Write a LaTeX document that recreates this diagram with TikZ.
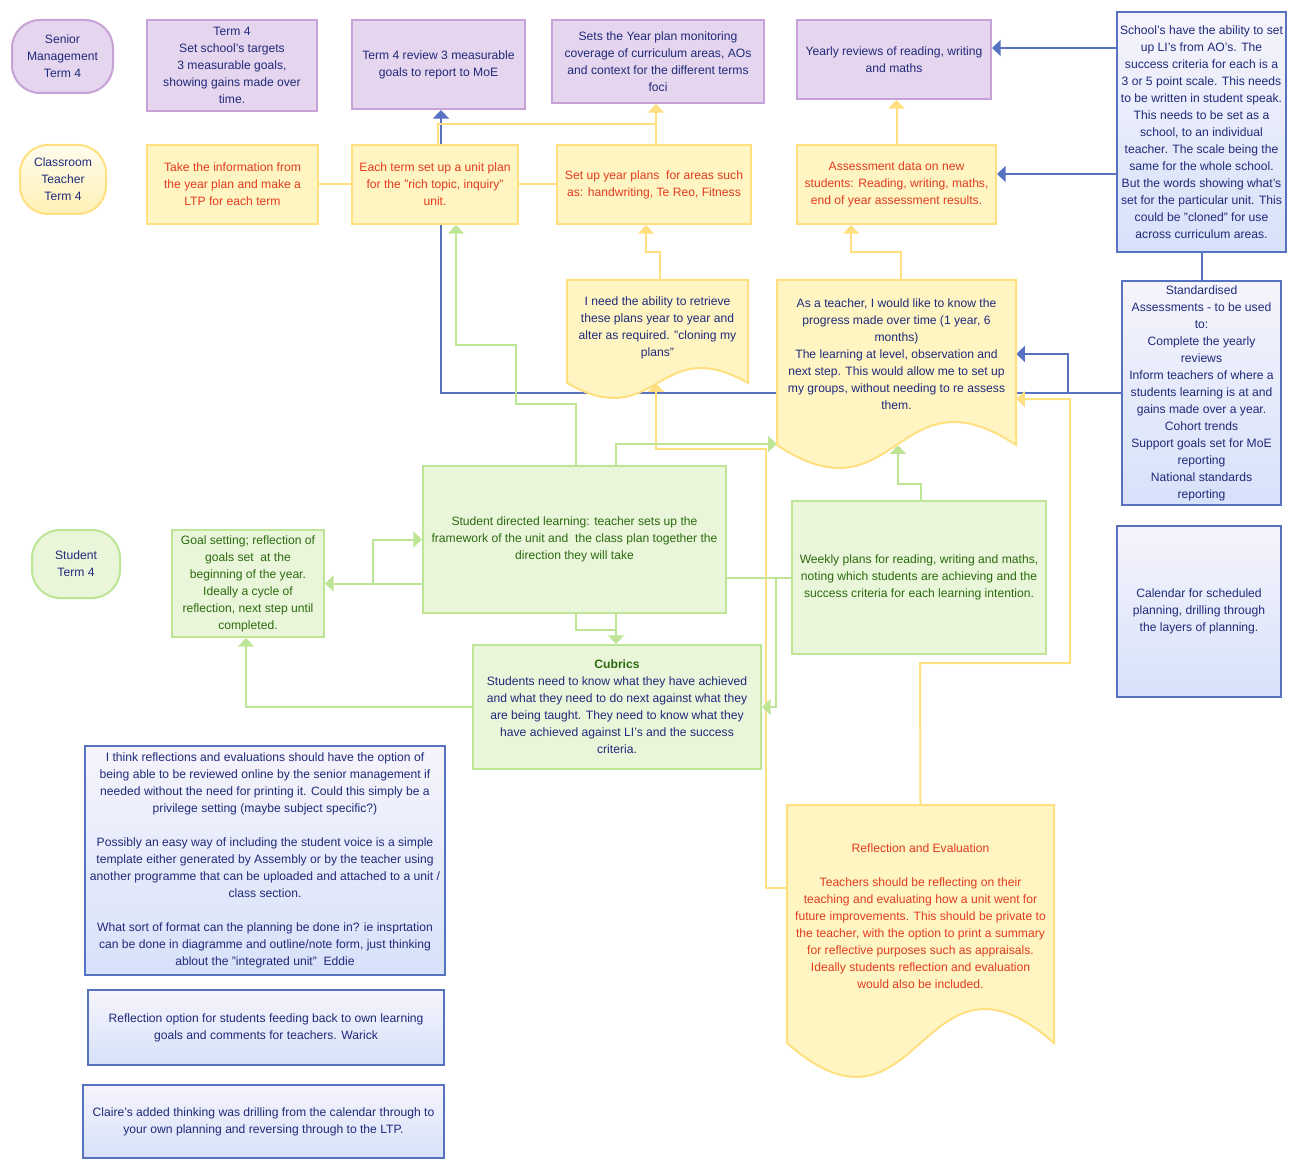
\documentclass[tikz,border=0pt]{standalone}
\usepackage{fontspec}
\setmainfont{Liberation Sans}
\usetikzlibrary{arrows.meta}
\definecolor{lilacfill}{HTML}{E6D5EE}
\definecolor{lilacline}{HTML}{C6A2D6}
\definecolor{sunfill}{HTML}{FFF5C2}
\definecolor{sunline}{HTML}{FFDF80}
\definecolor{leaffill}{HTML}{EAF6DA}
\definecolor{leafline}{HTML}{BEE596}
\definecolor{notetop}{HTML}{F6F4FB}
\definecolor{notebot}{HTML}{D6E1FA}
\definecolor{noteline}{HTML}{5672C0}
\definecolor{navytext}{HTML}{1F2A7A}
\definecolor{redtext}{HTML}{E23B1F}
\definecolor{leaftext}{HTML}{2B6A0E}
\newcommand\boxfont{\fontsize{9.1}{12.75}\selectfont}
% document shape: left, top, right, bottom edge, wave depth
\newcommand\docshape[5]{%
  \filldraw[draw=sunline, fill=sunfill, line width=1.5pt]
    (#1,#2) -- (#3,#2) -- (#3,#4)
    .. controls ({(#1+#3)/2},{#4-3.46*#5}) and ({(#1+#3)/2},{#4+3.46*#5}) .. (#1,#4)
    -- cycle;}
\pgfdeclarelayer{bg}
\pgfsetlayers{bg,main}

\begin{document}
\begin{tikzpicture}[x=0.75pt, y=-0.75pt,
  sz/.style 2 args={minimum width=#1*0.75pt, minimum height=#2*0.75pt},
  base/.style={draw, line width=1.5pt, align=center, font=\boxfont, inner sep=0.5pt},
  lilacbox/.style={base, draw=lilacline, fill=lilacfill, text=navytext},
  sunbox/.style={base, draw=sunline, fill=sunfill, text=redtext},
  leafbox/.style={base, draw=leafline, fill=leaffill, text=leaftext},
  notebox/.style={base, draw=noteline, top color=notetop, bottom color=notebot, text=navytext},
  lane/.style={rounded corners=21pt, text=navytext},
  docbox/.style={align=center, font=\boxfont, inner sep=0pt},
  tip/.style={-{Triangle[width=12pt, length=6.5pt]}},
  bline/.style={line width=1.5pt, draw=noteline},
  yline/.style={line width=1.5pt, draw=sunline},
  gline/.style={line width=1.5pt, draw=leafline}]
  \useasboundingbox (0,0) rectangle (1298,1169);

  % senior management lane
  \node[lilacbox, lane, sz={101}{73}] (senior) at (62.5,56.5) {Senior\\Management\\Term 4};
  \node[lilacbox, sz={170}{91}] (targets) at (232,65.5)
    {Term 4\\Set school's targets\\3 measurable goals,\\showing gains made over\\time.};
  \node[lilacbox, sz={173}{89}] (review) at (438.5,64.5)
    {Term 4 review 3 measurable\\goals to report to MoE};
  \node[lilacbox, sz={212}{83}] (yearplan) at (658,61.5)
    {Sets the Year plan monitoring\\coverage of curriculum areas, AOs\\and context for the different terms\\foci};
  \node[lilacbox, sz={194}{79}] (yearly) at (894,59.5)
    {Yearly reviews of reading, writing\\and maths};

  % classroom teacher lane
  \node[sunbox, lane, sz={86}{69}, top color=white!70!sunfill, bottom color=sunfill!80!sunline] (teacher) at (63,179.5)
    {Classroom\\Teacher\\Term 4};
  \node[sunbox, sz={171}{79}] (ltp) at (232.5,184.5)
    {Take the information from\\the year plan and make a\\LTP for each term};
  \node[sunbox, sz={166}{79}] (unit) at (435,184.5)
    {Each term set up a unit plan\\for the "rich topic, inquiry"\\unit.};
  \node[sunbox, sz={194}{79}] (setyear) at (654,184.5)
    {Set up year plans\ \ for areas such\\as: handwriting, Te Reo, Fitness};
  \node[sunbox, sz={199}{79}] (assess) at (896.5,184.5)
    {Assessment data on new\\students: Reading, writing, maths,\\end of year assessment results.};

  % documents
  \docshape{567}{280}{748}{383}{15}
  \node[docbox, sz={181}{103}, text=navytext, text depth=7pt] (retrieve) at (657.5,331.5)
    {I need the ability to retrieve\\these plans year to year and\\alter as required. "cloning my\\plans"};
  \docshape{777}{280}{1016}{445}{23}
  \node[docbox, sz={239}{165}, text=navytext, text depth=12.5pt] (progress) at (896.5,362.5)
    {As a teacher, I would like to know the\\progress made over time (1 year, 6\\months)\\The learning at level, observation and\\next step. This would allow me to set up\\my groups, without needing to re assess\\them.};
  \docshape{787}{805}{1054}{1043}{34}
  \node[docbox, sz={267}{238}, text=redtext, text depth=12.5pt] (refl) at (920.5,924)
    {Reflection and Evaluation\\[12.75pt]Teachers should be reflecting on their\\teaching and evaluating how a unit went for\\future improvements. This should be private to\\the teacher, with the option to print a summary\\for reflective purposes such as appraisals.\\Ideally students reflection and evaluation\\would also be included.};

  % student lane
  \node[leafbox, lane, sz={88}{68}] (student) at (76,564) {Student\\Term 4};
  \node[leafbox, sz={152}{107}] (goal) at (248,583.5)
    {Goal setting; reflection of\\goals set\ \ at the\\beginning of the year.\\Ideally a cycle of\\reflection, next step until\\completed.};
  \node[leafbox, sz={303}{147}] (sdl) at (574.5,539.5)
    {Student directed learning: teacher sets up the\\framework of the unit and\ \ the class plan together the\\direction they will take};
  \node[leafbox, sz={254}{153}] (weekly) at (919,577.5)
    {Weekly plans for reading, writing and maths,\\noting which students are achieving and the\\success criteria for each learning intention.};
  \node[leafbox, sz={288}{124}, text=navytext] (cubrics) at (617,707)
    {{\bfseries\color{leaftext}Cubrics}\\Students need to know what they have achieved\\and what they need to do next against what they\\are being taught. They need to know what they\\have achieved against LI's and the success\\criteria.};

  % notes
  \node[notebox, sz={169}{240}] (lis) at (1201.5,132)
    {School's have the ability to set\\up LI's from AO's. The\\success criteria for each is a\\3 or 5 point scale. This needs\\to be written in student speak.\\This needs to be set as a\\school, to an individual\\teacher. The scale being the\\same for the whole school.\\But the words showing what's\\set for the particular unit. This\\could be "cloned" for use\\across curriculum areas.};
  \node[notebox, sz={159}{224}] (std) at (1201.5,393)
    {Standardised\\Assessments - to be used\\to:\\Complete the yearly\\reviews\\Inform teachers of where a\\students learning is at and\\gains made over a year.\\Cohort trends\\Support goals set for MoE\\reporting\\National standards\\reporting};
  \node[notebox, sz={164}{171}] (calendar) at (1199,611.5)
    {Calendar for scheduled\\planning, drilling through\\the layers of planning.};
  \node[notebox, sz={360}{229}] (eddie) at (265,860.5)
    {I think reflections and evaluations should have the option of\\being able to be reviewed online by the senior management if\\needed without the need for printing it. Could this simply be a\\privilege setting (maybe subject specific?)\\[12.75pt]Possibly an easy way of including the student voice is a simple\\template either generated by Assembly or by the teacher using\\another programme that can be uploaded and attached to a unit /\\class section.\\[12.75pt]What sort of format can the planning be done in? ie insprtation\\can be done in diagramme and outline/note form, just thinking\\ablout the "integrated unit"\ \ Eddie};
  \node[notebox, sz={356}{75}] (warick) at (266,1027.5)
    {Reflection option for students feeding back to own learning\\goals and comments for teachers. Warick};
  \node[notebox, sz={361}{73}] (claire) at (263.5,1121.5)
    {Claire's added thinking was drilling from the calendar through to\\your own planning and reversing through to the LTP.};

  \begin{pgfonlayer}{bg}
    % blue links
    \draw[bline, tip] (lis.west |- 0,48) -- (yearly.east |- 0,48);
    \draw[bline, tip] (lis.west |- 0,174) -- (assess.east |- 0,174);
    \draw[bline] (lis.south) -- (std.north);
    \draw[bline, tip] (std.west) -- (441,393) -- (review.south -| 441,0);
    \draw[bline, tip] (1068,393) -- (1068,354) -- (progress.east |- 0,354);
    % yellow links
    \draw[yline] (ltp.east) -- (unit.west);
    \draw[yline] (unit.east) -- (setyear.west);
    \draw[yline] (unit.north -| 438,0) -- (438,124) -- (656,124);
    \draw[yline, tip] (setyear.north -| 656,0) -- (yearplan.south -| 656,0);
    \draw[yline, tip] (assess.north) -- (yearly.south -| assess.north);
    \draw[yline, tip] (retrieve.north -| 660,0) -- (660,252) -- (646,252) -- (setyear.south -| 646,0);
    \draw[yline, tip] (progress.north -| 901,0) -- (901,252) -- (851,252) -- (assess.south -| 851,0);
    \draw[yline, tip] (refl.north) -- (920,663) -- (1070,663) -- (1070,399) -- (progress.east |- 0,399);
    \draw[yline, tip] (refl.west |- 0,888) -- (766,888) -- (766,449) -- (656,449) -- (retrieve.south -| 656,0);
    % green links
    \draw[gline, tip] (sdl.north -| 576,0) -- (576,404) -- (516,404) -- (516,345) -- (456,345) -- (unit.south -| 456,0);
    \draw[gline, tip] (sdl.north -| 616,0) -- (616,444) -- (progress.west |- 0,444);
    \draw[gline, tip] (sdl.west |- goal.east) -- (goal.east);
    \draw[gline, tip] (373,583.5) -- (373,539.5) -- (sdl.west);
    \draw[gline, tip] (cubrics.west) -- (246,707) -- (goal.south -| 246,0);
    \draw[gline, tip] (sdl.south -| 576,0) -- (576,630) -- (616,630) -- (cubrics.north -| 616,0);
    \draw[gline] (sdl.south -| 616,0) -- (616,630);
    \draw[gline] (sdl.east |- weekly.west) -- (weekly.west);
    \draw[gline, tip] (776,577.5) -- (776,707) -- (cubrics.east);
    \draw[gline, tip] (weekly.north -| 921,0) -- (921,484) -- (898,484) -- (progress.south -| 898,0);
  \end{pgfonlayer}
\end{tikzpicture}
\end{document}
